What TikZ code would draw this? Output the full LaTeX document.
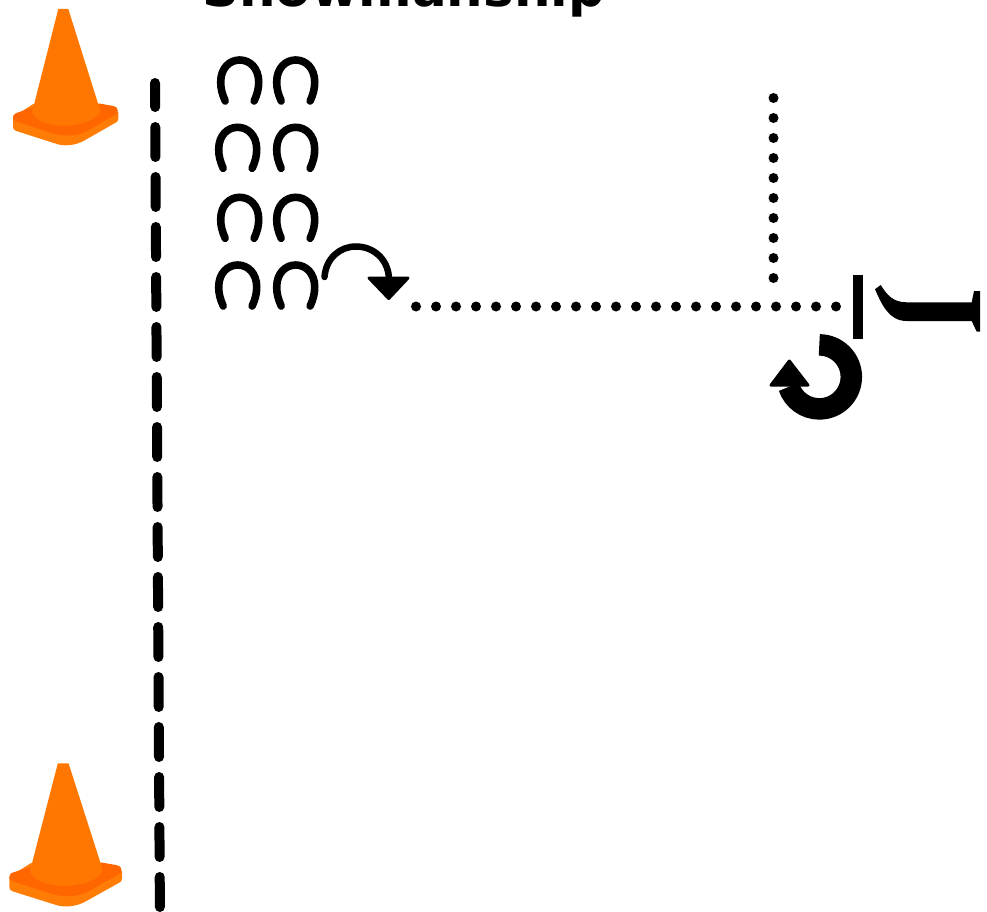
\documentclass[tikz,border=0pt]{standalone}
\usepackage{fontspec}
\setmainfont{DejaVu Sans}
\definecolor{conebody}{RGB}{255,119,0}
\definecolor{conedark}{RGB}{255,102,0}
\definecolor{coneside}{RGB}{255,125,5}
\tikzset{
  fence/.style={line width=10pt,line cap=round,dash pattern=on 30pt off 20pt,dash phase=6pt},
  trail/.style={line width=10pt,line cap=round,dash pattern=on 0pt off 20pt},
  shoeline/.style={line width=7.6pt,line cap=round},
  turnline/.style={line width=6.5pt,line cap=round},
  headfill/.style={fill=black,draw=black,line width=3pt,line join=round},
  shoe/.pic={
    \draw[shoeline] (-14.5,45) .. controls (-17.5,38) and (-19,33) .. (-19,26)
      .. controls (-19,12) and (-10,4) .. (0,4)
      .. controls (10,4) and (19,12) .. (19,26)
      .. controls (19,33) and (17.5,38) .. (14.5,45);
  },
  cone/.pic={
    \fill[coneside] (-50.3,108) -- (-50.3,118) .. controls (-50.3,120) and (-49.5,121) .. (-47,122)
      -- (-8,134.5) .. controls (0,137.5) and (12,137) .. (22,131)
      -- (53.5,113) .. controls (54.5,112) and (55,111) .. (55,109) -- (55,103)
      -- (30,95) -- (-30,95) -- cycle;
    \fill[conedark] (-30,98.5) -- (-47,104) .. controls (-50,105) and (-50.5,107) .. (-50.3,110)
      .. controls (-49,112) and (-47,112.5) .. (-45,113)
      -- (-12,124) .. controls (0,128) and (14,127) .. (22,123)
      -- (54,104.5) .. controls (55,100) and (54,98) .. (50,97)
      -- (36,94.5) -- cycle;
    \fill[conebody] (-5,0) -- (5,0) -- (36,98.5) .. controls (37,100) and (37,102) .. (36.5,104)
      .. controls (30,113) and (14,116.7) .. (0,116.7)
      .. controls (-14,116.7) and (-27,112) .. (-31,104)
      .. controls (-31.5,102) and (-31,100) .. (-30,98.5) -- cycle;
  }
}
\begin{document}
\begin{tikzpicture}[x=1pt,y=-1pt]
\useasboundingbox (0,0) rectangle (987,912);
\clip (0,0) rectangle (987,912);
% title
\node[anchor=base west,inner sep=0pt,font=\bfseries\fontsize{51.4pt}{60pt}\selectfont] (title) at (202,6.2) {Showmanship};
% cones
\pic (coneA) at (63.3,9) {cone};
\pic[xscale=1.07,yscale=1.05] (coneB) at (63.2,763.3) {cone};
% fence and trail
\coordinate (fenceA) at (155,83);
\coordinate (fenceB) at (160,925);
\draw[fence] (fenceA) -- (fenceB);
\coordinate (trailA) at (416,306.5);
\coordinate (trailB) at (838,306.5);
\draw[trail] (trailA) -- (trailB);
\coordinate (trailC) at (773.5,98);
\coordinate (trailD) at (773.5,280);
\draw[trail] (trailC) -- (trailD);
% shoes
\pic at (239.7,56) {shoe};
\pic at (295.7,56) {shoe};
\pic at (237.7,123.3) {shoe};
\pic at (295.7,123.3) {shoe};
\pic at (239.7,193.3) {shoe};
\pic at (295.7,193.3) {shoe};
\pic at (237.7,261) {shoe};
\pic at (295.7,261) {shoe};
% small turn arrow
\coordinate (turnA) at (324.5,277);
\coordinate (turnB) at (389,280);
\draw[turnline] (turnA) .. controls (326,258) and (340,246.5) .. (356,246.5)
  .. controls (374,246.5) and (389,260) .. (turnB);
\fill[headfill] (369,278) -- (408,278) -- (388.7,298.5) -- cycle;
% halt bar
\fill (853.3,275) rectangle (863.3,338.7);
% J shape
\fill (875,289.3) -- (880.7,285) .. controls (887,295) and (893,302.3) .. (906.7,302.3)
  -- (971.7,302.3) -- (974,291) -- (980,291) -- (980,331.7) -- (976.7,331.7) -- (971.7,321)
  -- (906.7,321) .. controls (889,321) and (882,305) .. cycle;
% big turn arrow
\draw[line width=21.5pt] (819.3,344.9) arc[start angle=-90,end angle=162,radius=32];
\fill[headfill] (771,385.2) -- (808,385.2) -- (789.3,361) -- cycle;
\end{tikzpicture}
\end{document}
